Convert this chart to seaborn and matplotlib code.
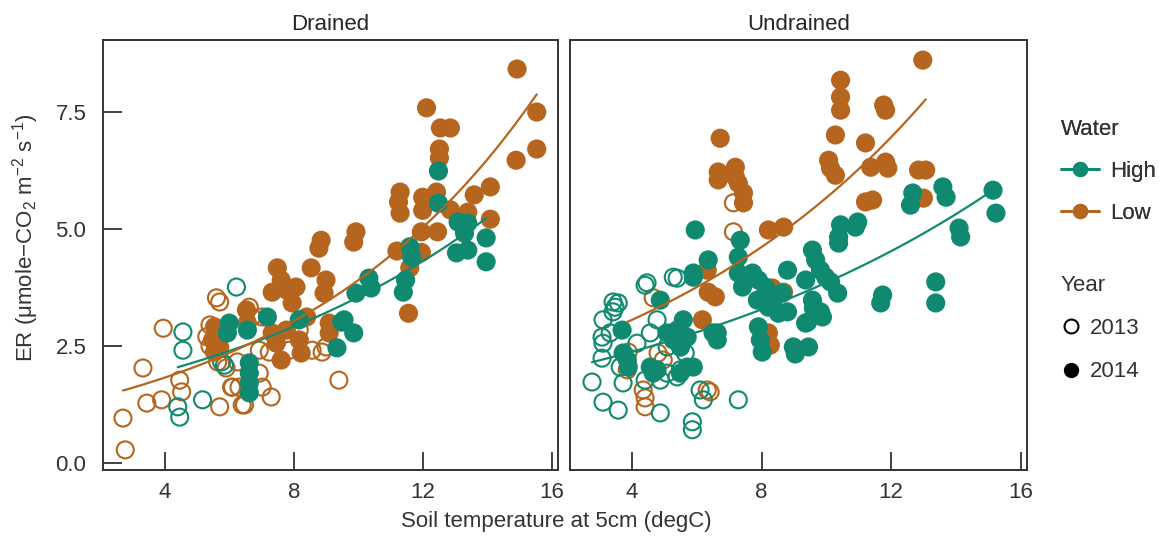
import numpy as np
import pandas as pd
import matplotlib
matplotlib.use("Agg")
import matplotlib.pyplot as plt
import seaborn as sns
from matplotlib.lines import Line2D

# ---------------- data ----------------
sites = ["Drained", "Undrained"]
waters = ["High", "Low"]
years = [2013, 2014]

# Drained
dr_low_2014_t = [14.93, 15.54, 14.9, 15.54, 12.12, 12.55, 12.86, 12.52, 12.52, 11.3, 11.25, 11.3, 12.0, 12.0,
                 12.43, 13.6, 14.1, 14.1, 12.86, 13.4, 11.96, 12.46, 11.2, 11.96, 11.6, 11.56, 9.93, 9.86,
                 8.85, 8.78, 7.49, 7.61, 7.77, 7.33, 8.07, 7.95, 8.54, 9.0, 8.94, 6.53, 6.56, 5.54, 5.48,
                 5.54, 5.76, 5.7, 7.33, 7.46, 7.61, 8.17, 8.23, 8.4, 9.1, 9.1, 7.77]
dr_low_2014_er = [8.42, 7.50, 6.47, 6.71, 7.59, 7.16, 7.16, 6.71, 6.52, 5.79, 5.58, 5.34, 5.68, 5.4,
                  5.79, 5.73, 5.9, 5.21, 5.41, 5.36, 4.94, 4.94, 4.53, 4.5, 4.17, 3.2, 4.94, 4.72,
                  4.76, 4.59, 4.17, 3.91, 3.70, 3.65, 3.76, 3.42, 4.17, 3.91, 3.63, 3.27, 2.99, 2.91, 2.63,
                  2.37, 2.78, 2.48, 2.78, 2.56, 2.2, 2.63, 2.35, 3.12, 2.99, 2.78, 2.84]
dr_low_2013_t = [2.77, 2.7, 3.32, 3.44, 3.9, 3.95, 4.46, 4.52, 5.6, 5.7, 5.4, 5.64, 5.9, 6.07, 5.7, 6.4,
                 6.3, 6.62, 6.7, 6.93, 7.02, 7.3, 6.93, 7.24, 7.86, 8.57, 9.0, 8.88, 9.4, 7.02, 8.17, 6.25,
                 5.3, 5.4, 6.1, 6.47]
dr_low_2013_er = [0.28, 0.96, 2.03, 1.28, 1.35, 2.88, 1.77, 1.52, 3.53, 3.44, 2.95, 2.16, 2.03, 1.62, 1.2, 1.24,
                  1.62, 3.33, 3.12, 1.92, 1.62, 1.41, 2.41, 2.37, 2.41, 2.41, 2.48, 2.37, 1.77, 3.12, 2.84, 2.16,
                  2.7, 2.5, 1.62, 1.24]
dr_high_2014_t = [12.49, 12.49, 13.1, 13.4, 13.3, 13.97, 13.97, 13.05, 13.4, 11.6, 11.66, 11.47, 11.4, 10.33,
                  10.4, 9.93, 9.56, 9.86, 9.34, 8.17, 7.18, 6.0, 5.94, 6.56, 6.62, 6.62, 6.62, 6.62, 9.49]
dr_high_2014_er = [6.24, 5.55, 5.15, 5.13, 4.91, 4.81, 4.3, 4.49, 4.55, 4.62, 4.40, 3.91, 3.65, 3.95,
                   3.74, 3.63, 3.06, 2.78, 2.46, 3.06, 3.12, 2.99, 2.78, 2.84, 2.14, 1.92, 1.71, 1.5, 3.01]
dr_high_2013_t = [6.22, 4.56, 4.56, 4.4, 4.46, 5.17, 5.76, 5.85]
dr_high_2013_er = [3.76, 2.8, 2.41, 1.2, 0.98, 1.35, 2.16, 2.09]

# Undrained
un_low_2014_t = [12.98, 10.44, 10.44, 10.44, 11.77, 11.83, 10.28, 11.21, 10.07, 10.13, 10.28, 11.37, 11.83,
                 11.9, 12.85, 13.07, 13.0, 11.21, 11.43, 6.72, 6.66, 6.66, 7.19, 7.19, 7.28, 7.44, 7.44,
                 8.21, 8.68, 6.32, 6.35, 6.57, 6.17, 8.33, 8.68, 8.21, 8.27]
un_low_2014_er = [8.61, 8.18, 7.82, 7.54, 7.65, 7.54, 7.01, 6.84, 6.47, 6.3, 6.15, 6.32, 6.43,
                  6.3, 6.26, 6.26, 5.66, 5.58, 5.62, 6.94, 6.22, 6.05, 6.32, 6.11, 5.98, 5.77, 5.56,
                  4.98, 5.04, 4.12, 3.65, 3.55, 3.06, 3.74, 3.65, 2.78, 2.52]
un_low_2013_t = [7.13, 7.13, 4.65, 4.8, 4.96, 3.88, 3.85, 4.34, 4.4, 4.4, 6.32, 6.41]
un_low_2013_er = [5.56, 4.94, 3.53, 2.35, 2.2, 2.37, 1.99, 1.56, 1.39, 1.2, 1.56, 1.52]
un_high_2014_t = [15.15, 15.24, 12.67, 12.6, 13.6, 13.7, 14.1, 14.15, 10.97, 10.9, 10.44, 10.38, 10.38,
                  9.57, 9.67, 9.82, 9.98, 10.13, 10.35, 8.8, 9.36, 9.57, 9.6, 9.88, 9.36, 11.74, 11.68,
                  13.38, 13.38, 8.98, 9.45, 9.04, 7.9, 7.96, 8.02, 5.95, 5.89, 6.35, 7.34, 7.28, 7.28,
                  7.41, 7.72, 7.9, 8.12, 8.33, 8.64, 8.21, 8.52, 7.87, 6.63, 3.69, 3.72, 3.85, 3.88,
                  4.56, 4.77, 4.65, 4.87, 5.08, 5.39, 5.58, 5.27, 5.7, 5.49, 5.7, 5.89, 5.49, 6.5, 6.63,
                  5.89, 8.8, 9.82, 9.42, 8.06, 8.37]
un_high_2014_er = [5.83, 5.34, 5.77, 5.51, 5.9, 5.68, 5.02, 4.83, 5.15, 5.04, 5.09, 4.83, 4.70,
                   4.55, 4.34, 4.12, 3.97, 3.87, 3.63, 4.12, 3.91, 3.48, 3.31, 3.12, 2.99, 3.59, 3.42,
                   3.87, 3.42, 2.48, 2.48, 2.33, 2.91, 2.63, 2.37, 4.98, 4.06, 4.34, 4.76, 4.40, 4.06,
                   3.76, 4.06, 3.91, 3.76, 3.55, 3.63, 3.33, 3.2, 3.48, 2.78, 2.84, 2.35, 2.2, 2.05,
                   2.05, 1.99, 1.92, 3.48, 2.78, 2.84, 3.06, 2.63, 2.69, 2.48, 2.05, 2.05, 1.92, 2.78, 2.63,
                   3.97, 3.23, 3.23, 3.01, 3.48, 3.33]
un_high_2013_t = [5.39, 4.4, 3.41, 3.47, 3.41, 3.57, 3.1, 3.07, 3.1, 3.32, 3.07, 4.15, 2.76, 3.1, 3.57,
                  3.72, 4.4, 4.87, 4.87, 5.08, 5.86, 5.86, 6.1, 6.2, 7.28, 4.56, 4.77, 5.08, 5.49, 5.64,
                  5.27, 4.46, 3.63, 5.49, 5.39]
un_high_2013_er = [3.95, 3.8, 3.44, 3.33, 3.23, 3.42, 3.06, 2.69, 2.56, 2.78, 2.24, 2.56, 1.73, 1.3, 1.13,
                   1.71, 1.77, 1.07, 1.77, 1.92, 0.88, 0.71, 1.56, 1.35, 1.35, 2.78, 3.06, 2.48, 2.48, 2.35,
                   3.97, 3.85, 2.05, 1.99, 1.84]

# exponential fit lines (ER = a * exp(b * T))
fit_site = ["Drained", "Drained", "Undrained", "Undrained"]
fit_water = ["High", "Low", "High", "Low"]
fit_a = [1.33, 1.10, 1.725, 2.03]
fit_b = [0.098, 0.1267, 0.0804, 0.1027]

x_ticks = [4, 8, 12, 16]
y_ticks = [0.0, 2.5, 5.0, 7.5]
y_ticklabels = ["0.0", "2.5", "5.0", "7.5"]

colors = {"High": "#0f8a70", "Low": "#b5651d"}

# ---------------- build table ----------------
groups = [
    ("Drained", "Low", 2014, dr_low_2014_t, dr_low_2014_er),
    ("Drained", "Low", 2013, dr_low_2013_t, dr_low_2013_er),
    ("Drained", "High", 2014, dr_high_2014_t, dr_high_2014_er),
    ("Drained", "High", 2013, dr_high_2013_t, dr_high_2013_er),
    ("Undrained", "Low", 2014, un_low_2014_t, un_low_2014_er),
    ("Undrained", "Low", 2013, un_low_2013_t, un_low_2013_er),
    ("Undrained", "High", 2014, un_high_2014_t, un_high_2014_er),
    ("Undrained", "High", 2013, un_high_2013_t, un_high_2013_er),
]
rows = []
for s, w, yr, t, e in groups:
    for ti, ei in zip(t, e):
        rows.append({"Site": s, "Water": w, "Year": yr, "Temp": ti, "ER": ei})
df = pd.DataFrame(rows)

# ---------------- style ----------------
sns.set_theme(style="white")
plt.rcParams["font.family"] = ["Liberation Sans", "DejaVu Sans"]
plt.rcParams["mathtext.fontset"] = "custom"
plt.rcParams["mathtext.rm"] = "Liberation Sans"
plt.rcParams["mathtext.it"] = "Liberation Sans:italic"
plt.rcParams["mathtext.default"] = "regular"

FS = 16
fig = plt.figure(figsize=(11.7, 5.4), dpi=100)
W, H = 1170, 540
ax1 = fig.add_axes([103 / W, 1 - 470 / H, 455 / W, 430 / H])
ax2 = fig.add_axes([570 / W, 1 - 470 / H, 457 / W, 430 / H])

for ax, site in zip([ax1, ax2], sites):
    sub = df[df.Site == site]
    # 2013 open circles
    s13 = sub[sub.Year == 2013]
    sns.scatterplot(data=s13, x="Temp", y="ER", hue="Water", palette=colors,
                    hue_order=waters, s=150, linewidth=1.5, legend=False, ax=ax)
    coll = ax.collections[-1]
    fc = coll.get_facecolors()
    coll.set_edgecolors(fc)
    coll.set_facecolor("none")
    # 2014 filled circles
    s14 = sub[sub.Year == 2014]
    sns.scatterplot(data=s14, x="Temp", y="ER", hue="Water", palette=colors,
                    hue_order=waters, s=190, linewidth=0, legend=False, ax=ax)
    # fit lines
    for fs, fw, a, b in zip(fit_site, fit_water, fit_a, fit_b):
        if fs != site:
            continue
        g = sub[sub.Water == fw]
        xs = np.linspace(g.Temp.min(), g.Temp.max(), 100)
        sns.lineplot(x=xs, y=a * np.exp(b * xs), color=colors[fw], linewidth=1.6, ax=ax)

    ax.set_xlim(2.08, 16.2)
    ax.set_ylim(-0.15, 9.04)
    ax.set_xticks(x_ticks)
    ax.set_xticklabels([str(v) for v in x_ticks], fontsize=FS)
    ax.set_yticks(y_ticks)
    ax.set_xlabel("")
    ax.set_ylabel("")
    ax.set_title(site, fontsize=FS, pad=7)
    for sp in ax.spines.values():
        sp.set_visible(True)
        sp.set_color("#333333")
        sp.set_linewidth(1.4)
    ax.tick_params(axis="x", direction="in", length=13, width=1.3, color="#333333",
                   pad=9, bottom=True, labelsize=FS, labelcolor="#333333")

ax1.set_yticklabels(y_ticklabels, fontsize=FS)
ax1.tick_params(axis="y", direction="in", length=14, width=1.3, color="#333333",
                pad=12, left=True, labelsize=FS, labelcolor="#333333")
ax2.tick_params(axis="y", left=False, labelleft=False)

fig.text(556 / W, 1 - 521 / H, "Soil temperature at 5cm (degC)", ha="center", va="center",
         fontsize=FS, color="#333333")
fig.text(26 / W, 1 - 238 / H, r"ER ($\mu$mole$-$CO$_2$ m$^{-2}$ s$^{-1}$)", rotation=90,
         ha="center", va="center", fontsize=FS, color="#333333")

# legends
water_handles = [Line2D([0], [0], color=colors[w], lw=2, marker="o", markersize=10) for w in waters]
leg1 = fig.legend(water_handles, waters, title="Water", loc="upper left",
                  bbox_to_anchor=(1041 / W, 1 - 99 / H), frameon=False, fontsize=FS,
                  title_fontsize=FS, handlelength=1.7, handletextpad=0.5, labelspacing=0.95,
                  alignment="left")
year_handles = [Line2D([0], [0], color="black", lw=0, marker="o", markersize=10,
                       markerfacecolor="none", markeredgewidth=1.5),
                Line2D([0], [0], color="black", lw=0, marker="o", markersize=10)]
leg2 = fig.legend(year_handles, [str(y) for y in years], title="Year", loc="upper left",
                  bbox_to_anchor=(1041 / W, 1 - 255 / H), frameon=False, fontsize=FS,
                  title_fontsize=FS, handlelength=0.9, handletextpad=0.4, labelspacing=1.0,
                  alignment="left")
for lg in (leg1, leg2):
    for t in lg.get_texts():
        t.set_color("#333333")
    lg.get_title().set_color("#333333")
fig.add_artist(leg1)

fig.savefig("out.png", dpi=100)
